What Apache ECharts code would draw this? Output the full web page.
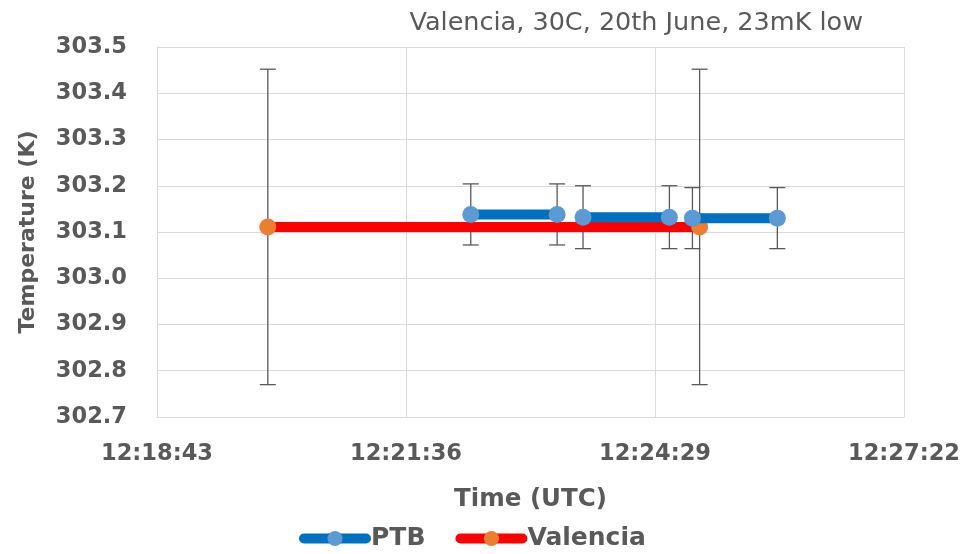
<!DOCTYPE html>
<html><head><meta charset="utf-8">
<script src="https://cdn.jsdelivr.net/npm/echarts@6/dist/echarts.min.js"></script>
<style>html,body{margin:0;padding:0;background:#fff}#c{width:965px;height:554px}</style>
</head><body><div id="c"></div>
<script>
var xTicks = ['12:18:43','12:21:36','12:24:29','12:27:22'];
var ptbTimes = ['12:22:21','12:23:21',null,'12:23:39','12:24:39',null,'12:24:55','12:25:54'];
var ptbValues = [303.138,303.138,null,303.132,303.132,null,303.130,303.130];
var ptbErr = [0.066,0.066,null,0.068,0.068,null,0.066,0.066];
var valTimes = ['12:20:00','12:25:00'];
var valValues = [303.111,303.111];
var valErr = [0.341,0.341];

function sec(t){var p=t.split(':');return (+p[0])*3600+(+p[1])*60+(+p[2]);}
var origin = sec(xTicks[0]);
var step = sec(xTicks[1]) - origin;
var span = sec(xTicks[xTicks.length-1]) - origin;
function fmt(v){var s=Math.round(v+origin);var h=Math.floor(s/3600),m=Math.floor(s%3600/60),ss=s%60;
  return h+':'+(m<10?'0':'')+m+':'+(ss<10?'0':'')+ss;}

var ptbData = ptbTimes.map(function(t,i){return t===null?[ (i>0?sec(ptbTimes[i-1]):0)-origin,'-']:[sec(t)-origin,ptbValues[i]];});
var valData = valTimes.map(function(t,i){return [sec(t)-origin,valValues[i]];});
var errData = [];
ptbTimes.forEach(function(t,i){if(t!==null)errData.push([sec(t)-origin,ptbValues[i]-ptbErr[i],ptbValues[i]+ptbErr[i]]);});
valTimes.forEach(function(t,i){errData.push([sec(t)-origin,valValues[i]-valErr[i],valValues[i]+valErr[i]]);});

var gray='#595959', grid='#d9d9d9', font='DejaVu Sans';
var chart = echarts.init(document.getElementById('c'));
chart.setOption({
  animation:false,
  title:{text:'Valencia, 30C, 20th June, 23mK low',right:97,top:5,
    textStyle:{fontFamily:font,fontWeight:'normal',fontSize:25.5,color:gray}},
  grid:{left:157,right:61,top:47,bottom:137},
  legend:{bottom:-2,left:294,itemWidth:62,itemHeight:19,itemGap:30,
    lineStyle:{width:10,cap:'round'},
    textStyle:{fontFamily:font,fontWeight:'bold',fontSize:25,color:gray,padding:[0,0,0,0]},
    data:['PTB','Valencia']},
  xAxis:{type:'value',min:0,max:span,interval:step,
    name:'Time (UTC)',nameLocation:'middle',nameGap:70,
    nameTextStyle:{fontFamily:font,fontWeight:'bold',fontSize:24.5,color:gray},
    axisLine:{lineStyle:{color:grid}},axisTick:{show:false},
    splitLine:{show:true,lineStyle:{color:grid,width:1}},
    axisLabel:{formatter:fmt,margin:26,fontFamily:font,fontWeight:'bold',fontSize:22.5,color:gray}},
  yAxis:{type:'value',min:302.7,max:303.5,interval:0.1,
    name:'Temperature (K)',nameLocation:'middle',nameGap:118,
    nameTextStyle:{fontFamily:font,fontWeight:'bold',fontSize:22,color:gray},
    axisLine:{show:true,lineStyle:{color:grid}},axisTick:{show:false},
    splitLine:{show:true,lineStyle:{color:grid,width:1}},
    axisLabel:{formatter:function(v){return v.toFixed(1);},margin:30,fontFamily:font,fontWeight:'bold',fontSize:22.5,color:gray}},
  series:[
    {type:'custom',name:'err',silent:true,z:1,data:errData,
      renderItem:function(params,api){
        var x=api.value(0),lo=api.coord([x,api.value(1)]),hi=api.coord([x,api.value(2)]);
        var w=8;
        return {type:'group',children:[
          {type:'line',shape:{x1:lo[0],y1:lo[1],x2:hi[0],y2:hi[1]},style:{stroke:gray,lineWidth:1.3}},
          {type:'line',shape:{x1:lo[0]-w,y1:lo[1],x2:lo[0]+w,y2:lo[1]},style:{stroke:gray,lineWidth:1.3}},
          {type:'line',shape:{x1:hi[0]-w,y1:hi[1],x2:hi[0]+w,y2:hi[1]},style:{stroke:gray,lineWidth:1.3}}
        ]};
      }},
    {type:'line',name:'PTB',z:3,data:ptbData,connectNulls:false,symbol:'circle',symbolSize:17,
      lineStyle:{color:'#0070C0',width:10},itemStyle:{color:'#5B9BD5'}},
    {type:'line',name:'Valencia',z:2,data:valData,symbol:'circle',symbolSize:17,
      lineStyle:{color:'#FF0000',width:10},itemStyle:{color:'#ED7D31'}}
  ]
});
</script></body></html>
